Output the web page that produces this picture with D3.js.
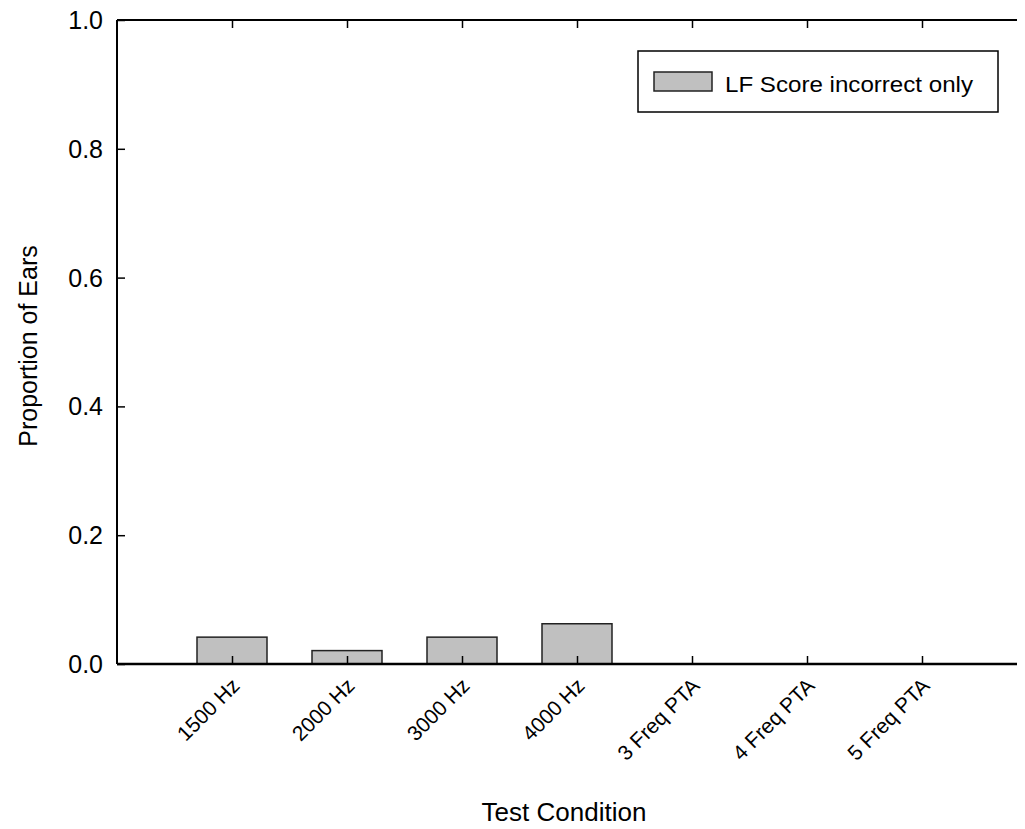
<!DOCTYPE html>
<html>
<head>
<meta charset="utf-8">
<script src="https://cdn.jsdelivr.net/npm/d3@7"></script>
<style>
  body { margin: 0; background: #fff; }
  svg { display: block; font-family: "Liberation Sans", Arial, sans-serif; }
</style>
</head>
<body>
<svg id="chart" width="1025" height="829"></svg>
<script>
// Proportion of ears with only the low-frequency score incorrect, per test condition
const categories = ["1500 Hz", "2000 Hz", "3000 Hz", "4000 Hz", "3 Freq PTA", "4 Freq PTA", "5 Freq PTA"];
const values = [0.0417, 0.0208, 0.0417, 0.0625, 0, 0, 0];
const yTicks = [0, 0.2, 0.4, 0.6, 0.8, 1.0];
const seriesName = "LF Score incorrect only";

(function () {
  const svg = d3.select("#chart");
  const pL = 117, pR = 1017, pT = 20, pB = 664;
  const step = 115;

  // categories sit at integer positions 1..7 along the x axis
  const x = d3.scaleLinear().domain([0, (pR - pL) / step]).range([pL, pR]);
  const y = d3.scaleLinear().domain([0, 1]).range([pB, pT]);
  const barW = 70;

  // bars
  svg.append("g").selectAll("rect")
    .data(values.map((v, i) => ({ v, i })).filter(d => d.v > 0))
    .join("rect")
    .attr("x", d => x(d.i + 1) - barW / 2)
    .attr("y", d => y(d.v))
    .attr("width", barW)
    .attr("height", d => y(0) - y(d.v))
    .attr("fill", "#c0c0c0")
    .attr("stroke", "#222")
    .attr("stroke-width", 1.5);

  // left axis, ticks pointing inward
  const yAxis = svg.append("g")
    .attr("transform", `translate(${pL},0)`)
    .call(d3.axisRight(y).tickValues(yTicks).tickSize(8).tickFormat(""));
  yAxis.select(".domain").remove();
  yAxis.selectAll("line").attr("stroke", "#000").attr("stroke-width", 1.5);
  svg.append("line").attr("x1", pL).attr("x2", pL).attr("y1", pT).attr("y2", pB)
    .attr("stroke", "#000").attr("stroke-width", 2);
  svg.append("g").selectAll("text")
    .data(yTicks).join("text")
    .attr("x", 103)
    .attr("y", d => y(d) + 9)
    .attr("text-anchor", "end")
    .attr("font-size", 25)
    .text(d => d.toFixed(1));

  // top axis, ticks pointing down
  const idx = categories.map((c, i) => i + 1);
  const topAxis = svg.append("g")
    .attr("transform", `translate(0,${pT})`)
    .call(d3.axisBottom(x).tickValues(idx).tickSize(8).tickFormat(""));
  topAxis.select(".domain").remove();
  topAxis.selectAll("line").attr("stroke", "#000").attr("stroke-width", 1.5);
  svg.append("line").attr("x1", pL).attr("x2", pR).attr("y1", pT).attr("y2", pT)
    .attr("stroke", "#000").attr("stroke-width", 2);

  // bottom axis, ticks pointing up
  const botAxis = svg.append("g")
    .attr("transform", `translate(0,${pB})`)
    .call(d3.axisTop(x).tickValues(idx).tickSize(8).tickFormat(""));
  botAxis.select(".domain").remove();
  botAxis.selectAll("line").attr("stroke", "#000").attr("stroke-width", 1.5);
  svg.append("line").attr("x1", pL).attr("x2", pR).attr("y1", pB).attr("y2", pB)
    .attr("stroke", "#000").attr("stroke-width", 2.5);

  // rotated category labels
  svg.append("g").selectAll("text")
    .data(categories).join("text")
    .attr("transform", (d, i) => `translate(${x(i + 1) + 9},${pB + 23}) rotate(-45)`)
    .attr("text-anchor", "end")
    .attr("font-size", 21)
    .text(d => d);

  // axis titles
  svg.append("text")
    .attr("x", 564)
    .attr("y", 821)
    .attr("text-anchor", "middle")
    .attr("font-size", 26)
    .text("Test Condition");
  svg.append("text")
    .attr("transform", `translate(37,346) rotate(-90)`)
    .attr("text-anchor", "middle")
    .attr("font-size", 25)
    .text("Proportion of Ears");

  // legend
  const lg = svg.append("g").attr("transform", "translate(638,51)");
  lg.append("rect").attr("width", 360).attr("height", 61)
    .attr("fill", "#fff").attr("stroke", "#000").attr("stroke-width", 1.5);
  lg.append("rect").attr("x", 16).attr("y", 21).attr("width", 58).attr("height", 19)
    .attr("fill", "#c0c0c0").attr("stroke", "#222").attr("stroke-width", 1.5);
  lg.append("text").attr("x", 87).attr("y", 41).attr("font-size", 22)
    .attr("textLength", 248).attr("lengthAdjust", "spacingAndGlyphs")
    .text(seriesName);
})();
</script>
</body>
</html>
